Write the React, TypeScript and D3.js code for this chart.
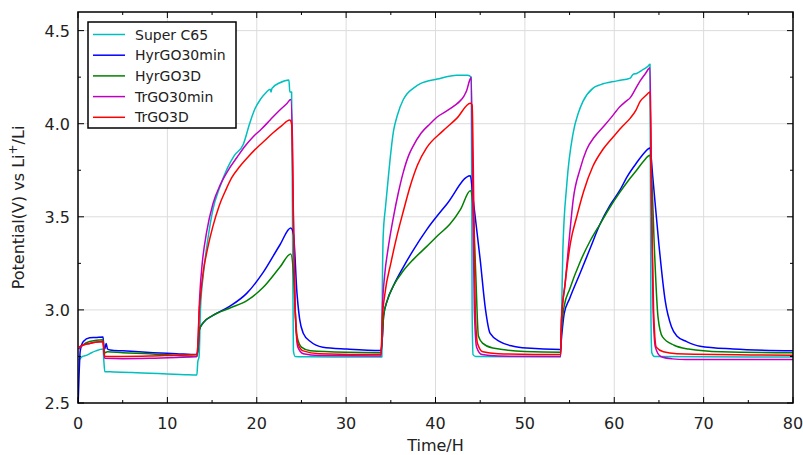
import React from "react";
import * as d3 from "d3";

type P = [number, number];

const seriesNames = ["Super C65", "HyrGO30min", "HyrGO3D", "TrGO30min", "TrGO3D"];
const seriesColors = ["#00bfbf", "#0000ff", "#008000", "#bf00bf", "#ff0000"];

const superC65: P[] = [
  [0.1, 2.73], [0.5, 2.75], [1, 2.757], [1.5, 2.77], [2, 2.78], [2.8, 2.79], [2.9, 2.72], [3.0, 2.668],
  [4, 2.667], [6, 2.664], [8, 2.66], [10, 2.656], [12, 2.652], [13.3, 2.65], [13.4, 2.72], [13.55, 2.75],
  [13.7, 3.0], [14.0, 3.18], [14.5, 3.37], [15.1, 3.54], [15.8, 3.65], [16.7, 3.76], [17.5, 3.83],
  [18.5, 3.89], [19.2, 4.0], [19.8, 4.08], [20.4, 4.13], [21.0, 4.165], [21.5, 4.185], [21.6, 4.17],
  [21.7, 4.19], [22.6, 4.22], [23.6, 4.235], [23.7, 4.17], [23.9, 4.17], [24.0, 3.5], [24.1, 2.78],
  [24.3, 2.75], [26, 2.748], [30, 2.747], [34.0, 2.747], [34.05, 3.1], [34.15, 3.4], [34.4, 3.55],
  [34.6, 3.65], [34.9, 3.8], [35.3, 3.96], [35.7, 4.04], [36.4, 4.13], [36.8, 4.16], [37.5, 4.19],
  [38.3, 4.215], [40.2, 4.24], [42.4, 4.26], [43.6, 4.26], [44.0, 4.25], [44.1, 3.0], [44.2, 2.76],
  [44.5, 2.75], [50, 2.748], [54.0, 2.748], [54.1, 2.96], [54.25, 3.32], [54.7, 3.68], [55.4, 3.95],
  [56, 4.06], [56.5, 4.12], [57.6, 4.19], [58.5, 4.21], [60.3, 4.23], [61.8, 4.245], [62.1, 4.265],
  [62.5, 4.27], [63.2, 4.29], [63.8, 4.31], [64.0, 4.32], [64.1, 3.0], [64.2, 2.77], [64.5, 2.75],
  [70, 2.748], [80, 2.747],
];

const hyrGO30min: P[] = [
  [0.02, 2.5], [0.12, 2.65], [0.25, 2.78], [0.6, 2.83], [1.3, 2.85], [2.0, 2.852], [2.8, 2.855],
  [2.9, 2.8], [3.0, 2.79], [3.15, 2.82], [3.3, 2.79], [3.6, 2.785], [5, 2.78], [8.4, 2.77], [11, 2.765],
  [13.3, 2.76], [13.45, 2.8], [13.55, 2.89], [14.0, 2.93], [15.1, 2.97], [17.0, 3.02], [18.9, 3.09],
  [20.7, 3.2], [22.6, 3.35], [23.8, 3.44], [24.1, 3.41], [24.5, 3.09], [24.8, 2.95], [25.2, 2.875],
  [26, 2.83], [27.4, 2.8], [30.1, 2.79], [33.9, 2.782], [34.05, 2.85], [34.2, 2.97], [34.6, 3.05],
  [35.3, 3.13], [36.4, 3.23], [37.5, 3.32], [39.0, 3.43], [41.3, 3.57], [43.9, 3.72], [44.2, 3.6],
  [45.0, 3.27], [45.6, 3.0], [46.1, 2.875], [47.2, 2.83], [48.7, 2.805], [50.2, 2.795], [54.0, 2.787],
  [54.05, 2.82], [54.2, 2.9], [54.4, 2.98], [55, 3.06], [56.2, 3.2], [57.3, 3.33], [58.4, 3.46],
  [59.5, 3.56], [60.6, 3.64], [61.5, 3.72], [62.5, 3.79], [63.3, 3.84], [64.0, 3.87], [64.3, 3.72],
  [65.0, 3.35], [65.7, 3.05], [66.4, 2.91], [67.0, 2.86], [68.1, 2.83], [69.6, 2.805], [73.3, 2.79],
  [80, 2.78],
];

const hyrGO3D: P[] = [
  [0.1, 2.79], [0.5, 2.81], [1.3, 2.83], [2.8, 2.84], [2.9, 2.79], [3.0, 2.77], [3.3, 2.775], [5, 2.77],
  [8, 2.765], [11, 2.755], [13.3, 2.75], [13.45, 2.8], [13.55, 2.89], [14.0, 2.93], [15.1, 2.97],
  [17.0, 3.01], [18.9, 3.05], [20.7, 3.12], [22.6, 3.23], [23.8, 3.3], [24.1, 3.2], [24.3, 3.0],
  [24.5, 2.86], [25, 2.8], [26, 2.78], [30, 2.772], [33.9, 2.77], [34.05, 2.85], [34.2, 2.97],
  [34.6, 3.05], [35.3, 3.13], [36.4, 3.21], [37.5, 3.27], [39, 3.34], [40.5, 3.41], [41.6, 3.46],
  [42.8, 3.54], [43.9, 3.64], [44.2, 3.55], [44.5, 3.2], [44.8, 2.86], [45.3, 2.82], [46.4, 2.795],
  [50, 2.777], [54.0, 2.773], [54.05, 2.85], [54.2, 2.95], [54.4, 3.02], [55, 3.11], [56.2, 3.26],
  [57.3, 3.37], [58.4, 3.46], [59.5, 3.55], [60.6, 3.63], [61.5, 3.69], [62.5, 3.75], [63.3, 3.8],
  [64.0, 3.83], [64.2, 3.7], [64.5, 3.32], [64.9, 2.96], [65.4, 2.855], [66.7, 2.81], [68.3, 2.79],
  [72, 2.775], [80, 2.77],
];

const trGO30min: P[] = [
  [0.1, 2.79], [0.5, 2.81], [1.3, 2.82], [2.8, 2.83], [2.9, 2.77], [3.0, 2.74], [5, 2.738], [8, 2.74],
  [11, 2.745], [13.3, 2.75], [13.45, 2.85], [13.55, 3.0], [13.65, 3.1], [13.9, 3.25], [14.4, 3.42],
  [15.1, 3.57], [15.9, 3.67], [16.8, 3.75], [17.8, 3.82], [18.7, 3.88], [19.6, 3.93], [20.5, 3.97],
  [21.5, 4.02], [22.5, 4.07], [23.4, 4.11], [23.8, 4.13], [24.0, 3.9], [24.1, 3.5], [24.3, 3.0],
  [24.6, 2.8], [25.2, 2.765], [27, 2.755], [33.9, 2.752], [34.0, 2.85], [34.05, 3.0], [34.3, 3.18],
  [34.7, 3.33], [35.3, 3.5], [35.8, 3.62], [36.4, 3.74], [37.0, 3.83], [37.5, 3.88], [38.4, 3.95],
  [39.4, 4.0], [40.3, 4.04], [41.3, 4.07], [42.2, 4.1], [42.7, 4.12], [43.2, 4.15], [43.5, 4.18],
  [43.8, 4.23], [44.0, 4.25], [44.2, 3.5], [44.35, 3.0], [44.6, 2.8], [45.2, 2.76], [47, 2.752],
  [54.0, 2.75], [54.1, 2.95], [54.5, 3.14], [55.0, 3.4], [55.4, 3.59], [56.2, 3.76], [56.9, 3.86],
  [57.8, 3.93], [58.7, 3.98], [59.6, 4.03], [60.6, 4.09], [61.3, 4.12], [61.8, 4.14], [62.3, 4.18],
  [62.9, 4.23], [63.5, 4.27], [64.0, 4.3], [64.2, 3.5], [64.35, 3.0], [64.6, 2.8], [65.2, 2.75],
  [66.5, 2.737], [68, 2.733], [80, 2.733],
];

const trGO3D: P[] = [
  [0.1, 2.8], [0.5, 2.81], [1.3, 2.82], [2.8, 2.83], [2.9, 2.78], [3.0, 2.75], [5, 2.75], [8, 2.752],
  [11, 2.757], [13.3, 2.76], [13.45, 2.85], [13.55, 2.98], [13.7, 3.07], [14.0, 3.2], [14.5, 3.33],
  [15.1, 3.45], [15.8, 3.56], [16.5, 3.64], [17.2, 3.71], [18.1, 3.77], [19.0, 3.82], [20.0, 3.87],
  [20.9, 3.91], [21.8, 3.95], [22.8, 3.99], [23.7, 4.02], [23.9, 4.0], [24.1, 3.5], [24.3, 3.0],
  [24.6, 2.82], [25.2, 2.78], [27, 2.765], [33.9, 2.76], [34.05, 2.95], [34.35, 3.09], [35.0, 3.25],
  [35.7, 3.4], [36.4, 3.53], [37.2, 3.67], [38.0, 3.78], [39.0, 3.87], [40.8, 3.96], [42.4, 4.03],
  [43.9, 4.11], [44.1, 4.1], [44.3, 3.5], [44.45, 3.0], [44.7, 2.82], [45.3, 2.775], [47, 2.765],
  [54.0, 2.76], [54.1, 2.95], [54.5, 3.14], [55.1, 3.36], [55.8, 3.5], [56.6, 3.64], [57.6, 3.77],
  [58.7, 3.86], [59.9, 3.93], [60.8, 3.98], [61.8, 4.03], [62.4, 4.07], [62.9, 4.12], [63.5, 4.15],
  [64.0, 4.17], [64.2, 3.5], [64.4, 3.0], [64.7, 2.8], [65.5, 2.775], [67, 2.765], [80, 2.757],
];

const allSeries: P[][] = [superC65, hyrGO30min, hyrGO3D, trGO30min, trGO3D];

const xMajorTicks = [0, 10, 20, 30, 40, 50, 60, 70, 80];
const xMinorTicks = [5, 15, 25, 35, 45, 55, 65, 75];
const yMajorTicks = [2.5, 3.0, 3.5, 4.0, 4.5];
const yMinorTicks = [2.75, 3.25, 3.75, 4.25];

const W = 803;
const H = 455;
const M = { left: 78, right: 10, top: 12, bottom: 52 };
const FONT = "DejaVu Sans, sans-serif";

export default function App() {
  const x = d3.scaleLinear().domain([0, 80]).range([M.left, W - M.right]);
  const y = d3.scaleLinear().domain([2.5, 4.6]).range([H - M.bottom, M.top]);
  const line = d3
    .line<P>()
    .x((d) => x(d[0]))
    .y((d) => y(d[1]))
    .curve(d3.curveMonotoneX);

  const x0 = M.left;
  const x1 = W - M.right;
  const y0 = H - M.bottom;
  const y1 = M.top;

  return (
    <svg
      width={W}
      height={H}
      style={{ position: "absolute", left: 0, top: 0, background: "#fff" }}
      fontFamily={FONT}
    >
      <rect x={0} y={0} width={W} height={H} fill="#fff" />
      <defs>
        <clipPath id="plotclip">
          <rect x={x0} y={y1} width={x1 - x0} height={y0 - y1} />
        </clipPath>
      </defs>
      <g stroke="#dcdcdc" strokeWidth={1}>
        {xMajorTicks.slice(1, -1).map((t) => (
          <line key={"gx" + t} x1={x(t)} x2={x(t)} y1={y0} y2={y1} />
        ))}
        {yMajorTicks.slice(1).map((t) => (
          <line key={"gy" + t} x1={x0} x2={x1} y1={y(t)} y2={y(t)} />
        ))}
      </g>
      <g clipPath="url(#plotclip)" fill="none" strokeWidth={1.5} strokeLinejoin="round">
        {allSeries.map((s, i) => (
          <path key={i} d={line(s) || ""} stroke={seriesColors[i]} />
        ))}
      </g>
      <g stroke="#000" strokeWidth={1}>
        {xMajorTicks.map((t) => (
          <g key={"xt" + t}>
            <line x1={x(t)} x2={x(t)} y1={y0} y2={y0 - 6} />
            <line x1={x(t)} x2={x(t)} y1={y1} y2={y1 + 6} />
          </g>
        ))}
        {xMinorTicks.map((t) => (
          <g key={"xm" + t}>
            <line x1={x(t)} x2={x(t)} y1={y0} y2={y0 - 3} />
            <line x1={x(t)} x2={x(t)} y1={y1} y2={y1 + 3} />
          </g>
        ))}
        {yMajorTicks.map((t) => (
          <g key={"yt" + t}>
            <line x1={x0} x2={x0 + 6} y1={y(t)} y2={y(t)} />
            <line x1={x1} x2={x1 - 6} y1={y(t)} y2={y(t)} />
          </g>
        ))}
        {yMinorTicks.map((t) => (
          <g key={"ym" + t}>
            <line x1={x0} x2={x0 + 3} y1={y(t)} y2={y(t)} />
            <line x1={x1} x2={x1 - 3} y1={y(t)} y2={y(t)} />
          </g>
        ))}
      </g>
      <rect x={x0} y={y1} width={x1 - x0} height={y0 - y1} fill="none" stroke="#000" strokeWidth={1.5} />
      <g fontSize={16} fill="#222">
        {xMajorTicks.map((t) => (
          <text key={"xl" + t} x={x(t)} y={y0 + 26} textAnchor="middle">
            {String(t)}
          </text>
        ))}
        {yMajorTicks.map((t) => (
          <text key={"yl" + t} x={x0 - 8} y={y(t) + 6} textAnchor="end">
            {t.toFixed(1)}
          </text>
        ))}
      </g>
      <text x={(x0 + x1) / 2} y={451} textAnchor="middle" fontSize={16} fill="#222">
        Time/H
      </text>
      <text
        transform={`translate(24, ${(y0 + y1) / 2}) rotate(-90)`}
        textAnchor="middle"
        fontSize={16}
        fill="#222"
      >
        Potential(V) vs Li<tspan dy={-7} fontSize={12}>+</tspan>
        <tspan dy={7}>/Li</tspan>
      </text>
      <g>
        <rect x={88} y={22} width={148} height={106} fill="#fff" stroke="#000" strokeWidth={1.5} />
        {seriesNames.map((n, i) => {
          const ly = 34.5 + i * 20.7;
          return (
            <g key={n}>
              <line x1={93} x2={125} y1={ly} y2={ly} stroke={seriesColors[i]} strokeWidth={1.5} />
              <text x={135} y={ly + 5} fontSize={14} fill="#222">
                {n}
              </text>
            </g>
          );
        })}
      </g>
    </svg>
  );
}
